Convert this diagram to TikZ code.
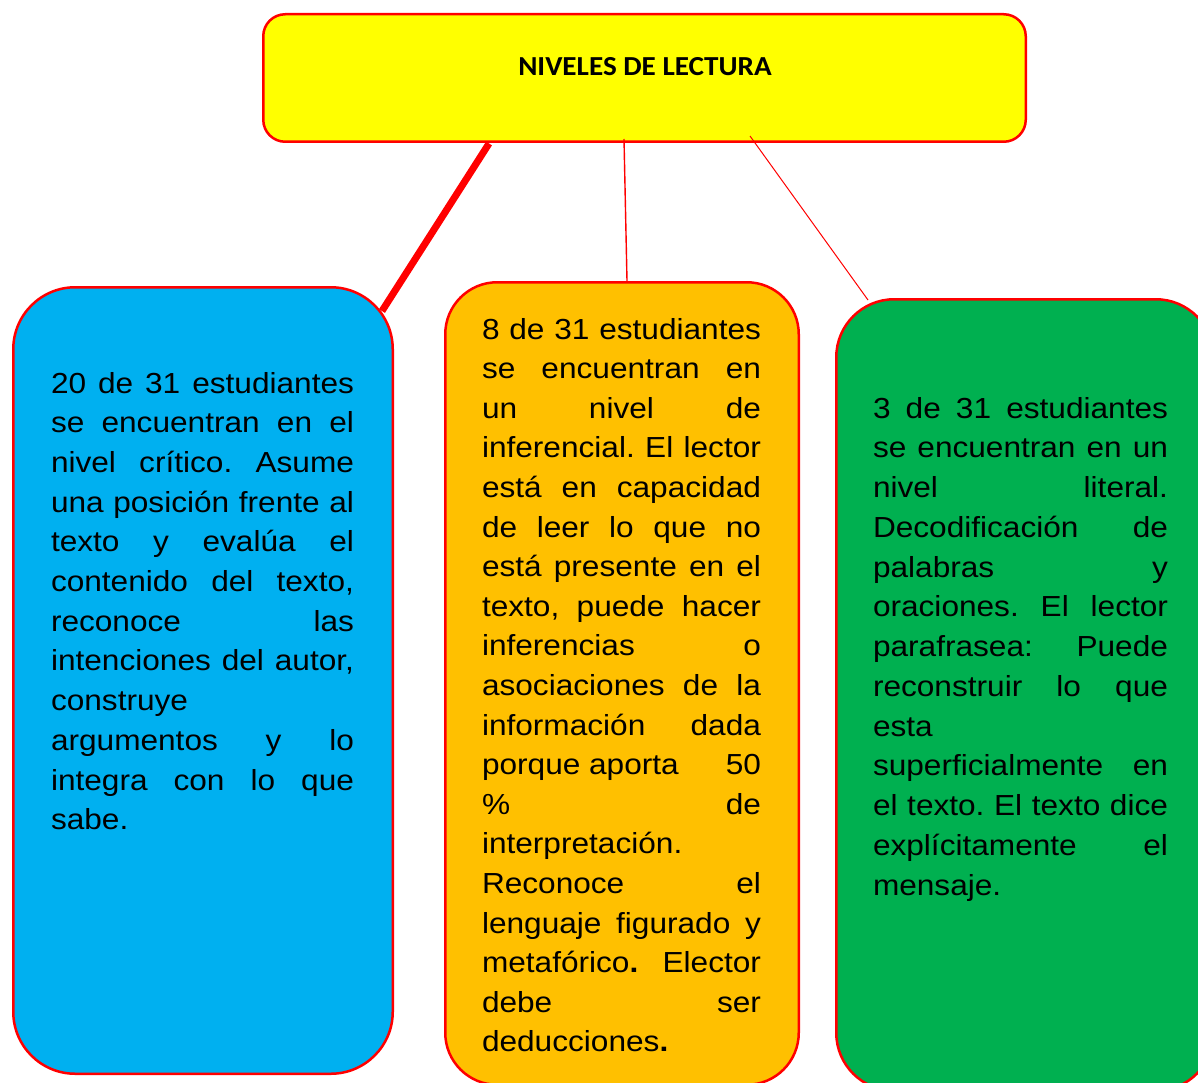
\documentclass[tikz,border=0pt]{standalone}
\usepackage{fontspec}
\newfontfamily\bodyfont[FakeStretch=1.09]{Liberation Sans}
\newfontfamily\titlefont[FakeStretch=1.06]{Carlito}
\definecolor{tyellow}{HTML}{FFFF00}
\definecolor{tblue}{HTML}{00B0F0}
\definecolor{torange}{HTML}{FFC000}
\definecolor{tgreen}{HTML}{00B050}
\frenchspacing
\newcommand\txtblock[2]{\parbox[t]{#1}{\frenchspacing\parindent=0pt\tolerance=10000\hbadness=10000\pretolerance=-1\hyphenpenalty=10000\exhyphenpenalty=10000 #2}}
\tikzset{
  box/.style={draw=red, line width=2.5pt, rounded corners=#1, inner sep=0pt, outer sep=0pt},
  txt/.style={anchor=base west, inner sep=0pt, outer sep=0pt},
  conn/.style={draw=red, line cap=butt}
}
\begin{document}
\begin{tikzpicture}[x=1pt,y=-1pt]
\useasboundingbox (0,0) rectangle (1198,1083);
% boxes
\node[box=22pt, fill=tyellow, minimum width=762.5pt, minimum height=127.5pt] (title) at (644.5,78) {};
\node[box=62pt, fill=tblue, minimum width=379.5pt, minimum height=786.5pt] (blue) at (203,680.5) {};
\node[box=52pt, fill=torange, minimum width=353.5pt, minimum height=802.5pt] (orange) at (622,683.5) {};
\node[box=58pt, fill=tgreen, minimum width=377.5pt, minimum height=791.5pt] (green) at (1025,695) {};
% connector end points
\coordinate (a1) at (489,143.5);
\coordinate (a2) at (382,311);
\coordinate (b1) at (624,139);
\coordinate (b2) at (627,281);
\coordinate (c1) at (750,136);
\coordinate (c2) at (868,300);
\draw[conn, line width=7pt] (a1) -- (a2);
\draw[conn, line width=1.4pt] (b1) -- (b2);
\draw[conn, line width=1pt] (c1) -- (c2);
% title text
\node[anchor=base, inner sep=0pt, font=\titlefont\bfseries\fontsize{27.5}{33}\selectfont] (ttext) at (645,76) {NIVELES DE LECTURA};
% blue text
\node[txt, font=\bodyfont\fontsize{29}{39.7}\selectfont] (btext) at (51,393) {\txtblock{303pt}{%
20 de 31 estudiantes\linebreak
se encuentran en el\linebreak
nivel crítico. Asume\linebreak
una posición frente al\linebreak
texto y evalúa el\linebreak
contenido del texto,\linebreak
reconoce las\linebreak
intenciones del autor,\linebreak
construye\linebreak
argumentos y lo\linebreak
integra con lo que\linebreak
sabe.}};
% orange text
\node[txt, font=\bodyfont\fontsize{29}{39.6}\selectfont] (otext) at (482,339) {\txtblock{279pt}{%
8 de 31 estudiantes\linebreak
se encuentran en\linebreak
un nivel de\linebreak
inferencial. El lector\linebreak
está en capacidad\linebreak
de leer lo que no\linebreak
está presente en el\linebreak
texto, puede hacer\linebreak
inferencias o\linebreak
asociaciones de la\linebreak
información dada\linebreak
porque aporta\hfill 50\linebreak
\% de\linebreak
interpretación.\linebreak
Reconoce el\linebreak
lenguaje figurado y\linebreak
metafórico\textbf{.} Elector\linebreak
debe ser\linebreak
deducciones\textbf{.}}};
% green text
\node[txt, font=\bodyfont\fontsize{29}{39.75}\selectfont] (gtext) at (873,418) {\txtblock{295pt}{%
3 de 31 estudiantes\linebreak
se encuentran en un\linebreak
nivel literal.\linebreak
Decodificación de\linebreak
palabras y\linebreak
oraciones. El lector\linebreak
parafrasea: Puede\linebreak
reconstruir lo que\linebreak
esta\linebreak
superficialmente en\linebreak
el texto. El texto dice\linebreak
explícitamente el\linebreak
mensaje.}};
\end{tikzpicture}
\end{document}
